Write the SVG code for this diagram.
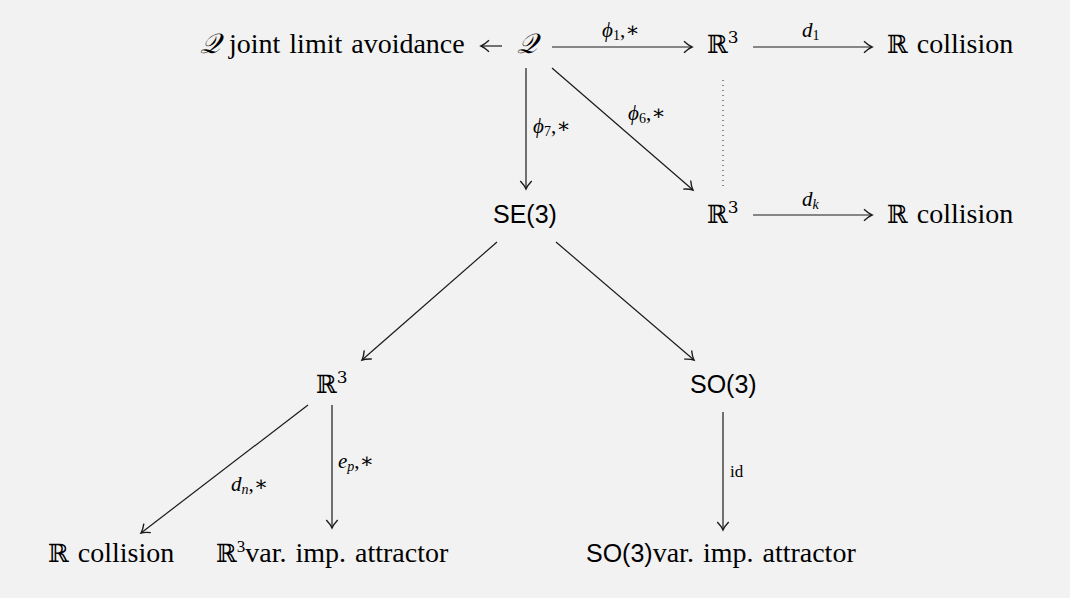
<svg xmlns="http://www.w3.org/2000/svg" width="1070" height="598" viewBox="0 0 1070 598">
<defs>
<style>
.t{font-family:"Liberation Serif","DejaVu Serif",serif;font-size:28px;word-spacing:2px;fill:#000}
.s{font-family:"Liberation Sans","DejaVu Sans",sans-serif;font-size:25px;word-spacing:0;fill:#000}
.bb{font-family:"DejaVu Serif",serif;font-size:25px;fill:#000}
.sup{font-size:17px}
.m{font-family:"Liberation Serif","DejaVu Serif",serif;font-size:21px;font-style:italic;fill:#000}
.ms{font-size:14px;font-style:normal}
.mi{font-size:14px;font-style:italic}
.r{font-style:normal}
.lb{font-family:"Liberation Serif","DejaVu Serif",serif;font-size:17px;fill:#000}
.c{stroke:#1a1a1a;stroke-width:1.2;fill:none}
.d{stroke:#1a1a1a;stroke-width:1;stroke-dasharray:1 4;fill:none}
</style>
<marker id="ah" markerUnits="userSpaceOnUse" markerWidth="16" markerHeight="16" refX="0" refY="0" viewBox="-9 -7 11 14" orient="auto">
<path d="M -7 -5 Q -3 -1.2 0 0 Q -3 1.2 -7 5" stroke="#1a1a1a" stroke-width="1.2" fill="none"/>
</marker>
</defs>
<rect width="1070" height="598" fill="#f2f2f2"/>

<g id="connectors">
<line class="c" x1="502" y1="46" x2="481" y2="46" marker-end="url(#ah)"/>
<line class="c" x1="552" y1="47" x2="692" y2="47" marker-end="url(#ah)"/>
<text class="m" x="602" y="37">ϕ<tspan class="ms" dy="3">1</tspan><tspan class="r" dy="-3">,∗</tspan></text>
<line class="c" x1="753" y1="47" x2="872" y2="47" marker-end="url(#ah)"/>
<text class="m" x="802" y="37">d<tspan class="ms" dy="3">1</tspan></text>
<line class="d" x1="723" y1="80" x2="723" y2="188"/>
<line class="c" x1="526" y1="68" x2="526" y2="189" marker-end="url(#ah)"/>
<text class="m" x="533" y="133">ϕ<tspan class="ms" dy="3">7</tspan><tspan class="r" dy="-3">,∗</tspan></text>
<line class="c" x1="552" y1="68" x2="693" y2="190" marker-end="url(#ah)"/>
<text class="m" x="628" y="120">ϕ<tspan class="ms" dy="3">6</tspan><tspan class="r" dy="-3">,∗</tspan></text>
<line class="c" x1="753" y1="215" x2="872" y2="215" marker-end="url(#ah)"/>
<text class="m" x="802" y="206">d<tspan class="mi" dy="3">k</tspan></text>
<line class="c" x1="497" y1="242" x2="362" y2="360" marker-end="url(#ah)"/>
<line class="c" x1="556" y1="242" x2="694" y2="360" marker-end="url(#ah)"/>
<line class="c" x1="308" y1="405" x2="141" y2="533" marker-end="url(#ah)"/>
<text class="m" x="231" y="491">d<tspan class="mi" dy="3">n</tspan><tspan class="r" dy="-3">,∗</tspan></text>
<line class="c" x1="332" y1="405" x2="332" y2="528" marker-end="url(#ah)"/>
<text class="m" x="338" y="468">e<tspan class="mi" dy="3">p</tspan><tspan class="r" dy="-3">,∗</tspan></text>
<line class="c" x1="723" y1="412" x2="723" y2="530" marker-end="url(#ah)"/>
<text class="lb" x="730" y="477">id</text>
</g>

<g id="n-qjla"><text class="t" x="200" y="53"><tspan font-style="italic">𝒬</tspan> joint limit avoidance</text></g>
<g id="n-q"><text class="t" x="517" y="53" font-style="italic">𝒬</text></g>
<g id="n-r3a"><text class="bb" x="707" y="53">ℝ<tspan class="sup" dy="-10">3</tspan></text></g>
<g id="n-rc1"><text class="t" x="887" y="53"><tspan class="bb">ℝ</tspan> collision</text></g>
<g id="n-se3"><text class="s" x="493" y="223">SE(3)</text></g>
<g id="n-r3b"><text class="bb" x="707" y="223">ℝ<tspan class="sup" dy="-10">3</tspan></text></g>
<g id="n-rck"><text class="t" x="887" y="223"><tspan class="bb">ℝ</tspan> collision</text></g>
<g id="n-r3c"><text class="bb" x="316" y="393">ℝ<tspan class="sup" dy="-10">3</tspan></text></g>
<g id="n-so3"><text class="s" x="690" y="393">SO(3)</text></g>
<g id="n-rcn"><text class="t" x="48" y="562"><tspan class="bb">ℝ</tspan> collision</text></g>
<g id="n-r3va"><text class="t" x="216" y="562"><tspan class="bb">ℝ</tspan><tspan class="sup" dy="-10">3</tspan><tspan dy="10">var. imp. attractor</tspan></text></g>
<g id="n-so3va"><text class="t" x="586" y="562"><tspan class="s">SO(3)</tspan>var. imp. attractor</text></g>
</svg>
